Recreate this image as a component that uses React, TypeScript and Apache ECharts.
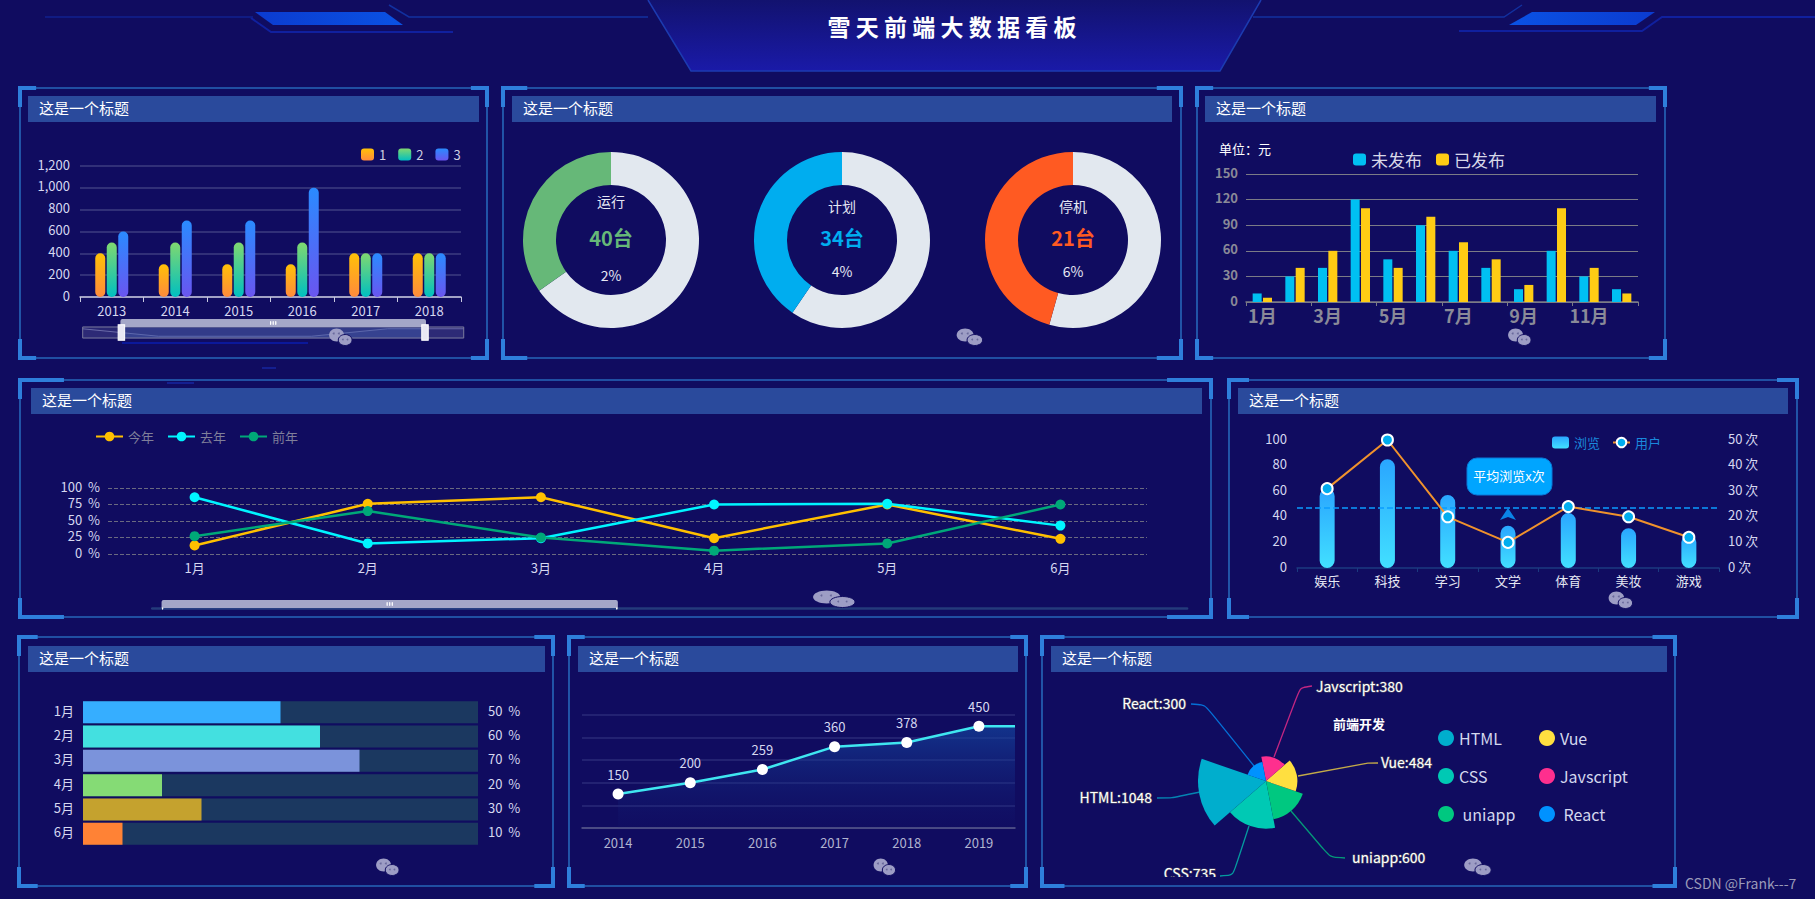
import React, { useEffect, useRef } from "react";
import * as echarts from "echarts";

const FONT = '"Noto Sans CJK SC", "Noto Sans", sans-serif';
const BG = "#100c60";

const pageTitle = "雪 天 前 端 大 数 据 看 板";
const panelTitle = "这是一个标题";

// panel 1
const barYears = ["2013", "2014", "2015", "2016", "2017", "2018"];
const barSeries1 = [400, 300, 300, 300, 400, 400];
const barSeries2 = [500, 500, 500, 500, 400, 400];
const barSeries3 = [600, 700, 700, 1000, 400, 400];

// panel 2
const ringNames = ["运行", "计划", "停机"];
const ringValues = [40, 34, 21];
const ringRests = [75, 50, 25];
const ringPercents = ["2%", "4%", "6%"];
const ringColors = ["#66b878", "#00adef", "#ff5a22"];
const ringCentersX = [611, 842, 1073];

// panel 3
const months12 = ["1月", "2月", "3月", "4月", "5月", "6月", "7月", "8月", "9月", "10月", "11月", "12月"];
const unpublished = [10, 30, 40, 120, 50, 90, 60, 40, 15, 60, 30, 15];
const published = [5, 40, 60, 110, 40, 100, 70, 50, 20, 110, 40, 10];

// panel 4
const months6 = ["1月", "2月", "3月", "4月", "5月", "6月"];
const thisYear = [13, 76, 86, 24, 75, 23];
const lastYear = [86, 16, 24, 75, 76, 43];
const yearBefore = [27, 65, 25, 5, 16, 75];

// panel 5
const topics = ["娱乐", "科技", "学习", "文学", "体育", "美妆", "游戏"];
const views = [62, 85, 57, 33, 43, 31, 26];
const users = [31, 50, 20, 10, 24, 20, 12];
const averageViews = 47;

// panel 6
const progressLabels = ["1月", "2月", "3月", "4月", "5月", "6月"];
const progressValues = [50, 60, 70, 20, 30, 10];
const progressColors = ["#36aeff", "#43e0e0", "#7b93db", "#85db75", "#c5a22e", "#ff8235"];

// panel 7
const trendYears = ["2014", "2015", "2016", "2017", "2018", "2019"];
const trendValues = [150, 200, 259, 360, 378, 450];

// panel 8
const roseNames = ["HTML", "CSS", "uniapp", "Vue", "Javscript", "React"];
const roseValues = [1048, 735, 600, 484, 380, 300];
const roseColors = ["#00aecd", "#00c9b4", "#00c880", "#ffdf40", "#fe2f8e", "#0092ff"];
const roseLabelAnchors: any[] = [
  { x: 1152, y: 797, align: "right", pts: [[1200, 792], [1172, 798], [1157, 798]] },
  { x: 1216, y: 873, align: "right", pts: [[1249, 826], [1233, 875], [1220, 876]] },
  { x: 1352, y: 857, align: "left", pts: [[1291, 811], [1330, 857], [1345, 858]] },
  { x: 1381, y: 762, align: "left", pts: [[1298, 776], [1368, 763], [1378, 763]] },
  { x: 1316, y: 686, align: "left", pts: [[1274, 757], [1300, 688], [1312, 686]] },
  { x: 1186, y: 703, align: "right", pts: [[1254, 766], [1205, 705], [1191, 704]] },
];

const panels = [
  { x0: 18, y0: 86, x1: 489, y1: 360, bar: [28, 96, 479, 122], tx: 39 },
  { x0: 501, y0: 86, x1: 1183, y1: 360, bar: [512, 96, 1172, 122], tx: 523 },
  { x0: 1195, y0: 86, x1: 1667, y1: 360, bar: [1205, 96, 1656, 122], tx: 1216 },
  { x0: 18, y0: 378, x1: 1213, y1: 619, bar: [31, 388, 1202, 414], tx: 42 },
  { x0: 1227, y0: 378, x1: 1799, y1: 619, bar: [1238, 388, 1788, 414], tx: 1249 },
  { x0: 17, y0: 635, x1: 555, y1: 888, bar: [28, 646, 545, 672], tx: 39 },
  { x0: 567, y0: 635, x1: 1028, y1: 888, bar: [578, 646, 1018, 672], tx: 589 },
  { x0: 1040, y0: 635, x1: 1677, y1: 888, bar: [1051, 646, 1667, 672], tx: 1062 },
];

const watermarks = [
  { x: 340, y: 337, s: 1.15 },
  { x: 969, y: 337, s: 1.3 },
  { x: 1519, y: 337, s: 1.15 },
  { x: 833, y: 599, s: 2.1 },
  { x: 1620, y: 600, s: 1.2 },
  { x: 387, y: 867, s: 1.15 },
  { x: 884, y: 867, s: 1.1 },
  { x: 1477, y: 867, s: 1.35 },
];

const vGrad = (top: string, bottom: string) => ({
  type: "linear", x: 0, y: 0, x2: 0, y2: 1,
  colorStops: [{ offset: 0, color: top }, { offset: 1, color: bottom }],
});
const hGrad = (a: string, b: string) => ({
  type: "linear", x: 0, y: 0, x2: 1, y2: 0,
  colorStops: [{ offset: 0, color: a }, { offset: 1, color: b }],
});

const txt = (text: string, x: number, y: number, size: number, fill: string, align = "left", weight = "normal", z = 10) => ({
  type: "text", x, y: y - 1.5, z,
  style: {
    text, fill, align, verticalAlign: "middle",
    textAlign: align, textVerticalAlign: "middle",
    font: `${weight} ${size}px ${FONT}`,
  },
});
const rect = (x: number, y: number, width: number, height: number, fill: any, z = 1) => ({
  type: "rect", z, shape: { x, y, width, height }, style: { fill },
});
const line = (points: number[][], stroke: string, lineWidth = 1.5, z = 1) => ({
  type: "polyline", z, shape: { points }, style: { stroke, lineWidth, fill: "none" },
});
const poly = (points: number[][], fill: any, z = 1) => ({
  type: "polygon", z, shape: { points }, style: { fill },
});

function headerElements(): any[] {
  return [
    poly([[648, 0], [691, 71], [1220, 71], [1261, 0]], vGrad("#12126f", "#1a1aa8")),
    line([[648, 0], [691, 71], [1220, 71], [1261, 0]], "#1c3bb0", 1.5),
    line([[45, 17], [253, 17]], "#10208f", 1.5),
    poly([[255, 12], [385, 12], [403, 25], [273, 25]], hGrad("#0b3bd0", "#0a52e4")),
    line([[251, 18], [271, 32], [453, 32]], "#10209e", 2),
    line([[389, 5], [409, 17], [648, 17]], "#12309f", 1.5),
    line([[1253, 17], [1504, 17], [1522, 5]], "#12309f", 1.5),
    poly([[1532, 12], [1655, 12], [1636, 25], [1509, 25]], hGrad("#0a52e4", "#0b3bd0")),
    line([[1459, 31], [1642, 31], [1662, 17], [1815, 17]], "#10209e", 2),
    rect(122, 342, 186, 2, "#0b189a"),
    rect(167, 382, 27, 2, "#141f90"),
    rect(262, 367, 14, 2, "#141f90"),
    txt(pageTitle, 952, 27, 23, "#ffffff", "center", "bold"),
    txt("CSDN @Frank---7", 1685, 884.5, 14, "#9a9ab8"),
  ];
}

function panelElements(): any[] {
  const out: any[] = [];
  const cornerColor = "#2e7fdb";
  for (const p of panels) {
    const w = p.x1 - p.x0;
    const h = p.y1 - p.y0;
    const cw = w / 26;
    const ch = 21;
    const t = 4;
    out.push({
      type: "rect", z: 1,
      shape: { x: p.x0 + 2, y: p.y0 + 2, width: w - 4, height: h - 4 },
      style: { fill: "none", stroke: "#2666b8", lineWidth: 1.6 },
    });
    out.push(rect(p.x0, p.y0, cw, t, cornerColor, 2));
    out.push(rect(p.x0, p.y0, t, ch, cornerColor, 2));
    out.push(rect(p.x1 - cw, p.y0, cw, t, cornerColor, 2));
    out.push(rect(p.x1 - t, p.y0, t, ch, cornerColor, 2));
    out.push(rect(p.x0, p.y1 - t, cw, t, cornerColor, 2));
    out.push(rect(p.x0, p.y1 - ch, t, ch, cornerColor, 2));
    out.push(rect(p.x1 - cw, p.y1 - t, cw, t, cornerColor, 2));
    out.push(rect(p.x1 - t, p.y1 - ch, t, ch, cornerColor, 2));
    const [a, b, c, d] = p.bar;
    out.push(rect(a, b, c - a, d - b, "#2a4a9c", 2));
    out.push(txt(panelTitle, p.tx, (b + d) / 2, 15, "#ffffff"));
  }
  return out;
}

function watermarkElements(): any[] {
  const out: any[] = [];
  const c = "#9d9dc5";
  for (const m of watermarks) {
    out.push({ type: "ellipse", z: 20, shape: { cx: m.x - 3 * m.s, cy: m.y - 2, rx: 6.5 * m.s, ry: 6.5 }, style: { fill: c } });
    out.push({ type: "ellipse", z: 21, shape: { cx: m.x + 4.5 * m.s, cy: m.y + 3, rx: 6 * m.s, ry: 5.5 }, style: { fill: c, stroke: BG, lineWidth: 1 } });
    for (const dx of [-5.5, -1]) out.push({ type: "circle", z: 22, shape: { cx: m.x + dx * m.s, cy: m.y - 3.5, r: 1 }, style: { fill: "#6a6a9c" } });
    for (const dx of [2.5, 6.5]) out.push({ type: "circle", z: 22, shape: { cx: m.x + dx * m.s, cy: m.y + 2.5, r: 0.9 }, style: { fill: "#6a6a9c" } });
  }
  return out;
}

function ringElements(): any[] {
  const out: any[] = [];
  ringNames.forEach((name, i) => {
    const cx = ringCentersX[i];
    const first = i === 0;
    out.push(txt(name, cx, first ? 202 : 207, 14, "#e6e8f4", "center"));
    out.push(txt(`${ringValues[i]}台`, cx, 239, 20, ringColors[i], "center", "bold"));
    out.push(txt(ringPercents[i], cx, first ? 276 : 272, 14, "#e6e8f4", "center"));
  });
  return out;
}

function bubbleElements(): any[] {
  return [
    {
      type: "rect", z: 15,
      shape: { x: 1467, y: 458, width: 85, height: 37, r: 10 },
      style: { fill: "#00a5ff", stroke: "#0a78d8", lineWidth: 1 },
    },
    txt("平均浏览x次", 1509, 477, 13, "#ffffff", "center", "normal", 16),
    poly([[1508, 508], [1516, 520], [1508, 517], [1500, 520]], "#0a84e8", 15),
    rect(1160, 877, 70, 6, BG, 30),
  ];
}

function buildOption(): any {
  const axisText = "#d6d8f0";
  const upLabel = { verticalAlign: "bottom", lineHeight: 4 };
  const grid = [
    { left: 80, top: 166, width: 381, height: 131 },
    { left: 1246, top: 174, width: 392, height: 128 },
    { left: 108, top: 488, width: 1039, height: 66 },
    { left: 1297, top: 440, width: 422, height: 128 },
    { left: 83, top: 700, width: 395, height: 146 },
    { left: 582, top: 715, width: 433, height: 113 },
  ];

  const xAxis: any[] = [
    { gridIndex: 0, type: "category", data: barYears,
      axisLine: { lineStyle: { color: "#c8c8e0", width: 1.5 } },
      axisTick: { show: true, lineStyle: { color: "#c8c8e0" }, length: 5 },
      axisLabel: { color: axisText, fontSize: 13, fontFamily: FONT, margin: 7 } },
    { gridIndex: 0, type: "category", data: barYears, show: false },
    { gridIndex: 1, type: "category", data: months12,
      axisLine: { lineStyle: { color: "#7b7b86", width: 1.5 } },
      axisTick: { show: true, lineStyle: { color: "#7b7b86" }, length: 4, interval: 1 },
      axisLabel: { color: "#8a8a98", fontSize: 18, fontWeight: "bold", fontFamily: FONT, interval: 1, margin: 4 } },
    { gridIndex: 2, type: "category", data: months6,
      axisLine: { show: false }, axisTick: { show: false },
      axisLabel: { color: axisText, fontSize: 13, fontFamily: FONT, margin: 7 } },
    { gridIndex: 2, type: "category", data: months6, show: false },
    { gridIndex: 3, type: "category", data: topics,
      axisLine: { lineStyle: { color: "#1b3a80", width: 1.5 } },
      axisTick: { show: true, lineStyle: { color: "#1b3a80" }, length: 4 },
      axisLabel: { color: "#e6e8f4", fontSize: 13, fontFamily: FONT, margin: 6 } },
    { gridIndex: 4, type: "value", min: 0, max: 100, show: false },
    { gridIndex: 5, type: "category", data: trendYears,
      axisLine: { lineStyle: { color: "#5a5a8a", width: 1.5 } }, axisTick: { show: false },
      axisLabel: { color: "#b0b4d0", fontSize: 13, fontFamily: FONT, margin: 8 } },
    { gridIndex: 5, type: "value", min: -0.5, max: 5.5, show: false, splitLine: { show: false } },
  ];

  const yAxis: any[] = [
    { gridIndex: 0, type: "value", min: 0, max: 1200, interval: 200,
      axisLine: { show: false }, axisTick: { show: false },
      splitLine: { lineStyle: { color: "#3d3c80", width: 1.5 } },
      axisLabel: { color: axisText, fontSize: 13, fontFamily: FONT, margin: 10, ...upLabel } },
    { gridIndex: 0, type: "value", show: false, splitLine: { show: false } },
    { gridIndex: 1, type: "value", min: 0, max: 150, interval: 30,
      axisLine: { show: false }, axisTick: { show: false },
      splitLine: { lineStyle: { color: "#7b7b86", width: 1.2 } },
      axisLabel: { color: "#8a8a98", fontSize: 13, fontWeight: "bold", fontFamily: FONT, margin: 8, ...upLabel } },
    { gridIndex: 2, type: "value", min: 0, max: 100, interval: 25,
      axisLine: { show: false }, axisTick: { show: false },
      splitLine: { lineStyle: { color: "#6a6a80", type: "dashed" } },
      axisLabel: { color: axisText, fontSize: 13, fontFamily: FONT, formatter: "{value}  %", margin: 8, ...upLabel } },
    { gridIndex: 2, type: "value", show: false, splitLine: { show: false } },
    { gridIndex: 3, type: "value", min: 0, max: 100, interval: 20,
      axisLine: { show: false }, axisTick: { show: false }, splitLine: { show: false },
      axisLabel: { color: axisText, fontSize: 13, fontFamily: FONT, margin: 10, ...upLabel } },
    { gridIndex: 3, type: "value", min: 0, max: 50, interval: 10, position: "right",
      axisLine: { show: false }, axisTick: { show: false }, splitLine: { show: false },
      axisLabel: { color: axisText, fontSize: 13, fontFamily: FONT, formatter: "{value} 次", margin: 9, ...upLabel } },
    { gridIndex: 4, type: "category", inverse: true, data: progressLabels,
      axisLine: { show: false }, axisTick: { show: false },
      axisLabel: { color: axisText, fontSize: 13, fontFamily: FONT, margin: 9, ...upLabel } },
    { gridIndex: 4, type: "category", inverse: true, position: "right",
      data: progressValues.map((v) => `${v}  %`),
      axisLine: { show: false }, axisTick: { show: false },
      axisLabel: { color: axisText, fontSize: 13, fontFamily: FONT, margin: 10, ...upLabel } },
    { gridIndex: 5, type: "value", min: 0, max: 500, interval: 100,
      axisLine: { show: false }, axisTick: { show: false }, axisLabel: { show: false },
      splitLine: { lineStyle: { color: "#2a2a78", width: 1.5 } } },
  ];

  const barStyle = (top: string, bottom: string) => ({
    color: vGrad(top, bottom), borderRadius: 5,
  });
  const series: any[] = [
    { name: "1", type: "bar", xAxisIndex: 0, yAxisIndex: 0, data: barSeries1, barWidth: 10, barGap: "15%", itemStyle: barStyle("#ffc107", "#ff8a3c") },
    { name: "2", type: "bar", xAxisIndex: 0, yAxisIndex: 0, data: barSeries2, barWidth: 10, barGap: "15%", itemStyle: barStyle("#80d870", "#00bfc0") },
    { name: "3", type: "bar", xAxisIndex: 0, yAxisIndex: 0, data: barSeries3, barWidth: 10, barGap: "15%", itemStyle: barStyle("#2a8bff", "#6a55f0") },
    { name: "p1-shadow", type: "line", xAxisIndex: 1, yAxisIndex: 1, data: barSeries1, symbol: "none", silent: true, lineStyle: { opacity: 0 } },

    { name: "未发布", type: "bar", xAxisIndex: 2, yAxisIndex: 2, data: unpublished, barWidth: 9, barGap: "15%", itemStyle: { color: "#00c0f2" } },
    { name: "已发布", type: "bar", xAxisIndex: 2, yAxisIndex: 2, data: published, barWidth: 9, barGap: "15%", itemStyle: { color: "#ffcc14" } },

    ...[["今年", thisYear, "#ffc000"], ["去年", lastYear, "#00f5ff"], ["前年", yearBefore, "#00a878"]].map(([name, data, color]: any) => ({
      name, type: "line", xAxisIndex: 3, yAxisIndex: 3, data, symbol: "circle", symbolSize: 10,
      itemStyle: { color }, lineStyle: { color, width: 2.5 },
    })),
    { name: "p4-shadow", type: "line", xAxisIndex: 4, yAxisIndex: 4, data: thisYear, symbol: "none", silent: true, lineStyle: { opacity: 0 } },

    { name: "浏览", type: "bar", xAxisIndex: 5, yAxisIndex: 5, data: views, barWidth: 15,
      itemStyle: { color: vGrad("#2aa6ff", "#42e0ff"), borderRadius: 7.5 },
      markLine: { silent: true, symbol: "none", label: { show: false },
        lineStyle: { color: "#0a9cff", type: "dashed", width: 1.5 },
        data: [{ yAxis: averageViews }] } },
    { name: "用户", type: "line", xAxisIndex: 5, yAxisIndex: 6, data: users, symbol: "circle", symbolSize: 11, z: 5,
      itemStyle: { color: "#00adef", borderColor: "#ffffff", borderWidth: 2 },
      lineStyle: { color: "#f0922c", width: 2 } },

    { name: "进度", type: "bar", xAxisIndex: 6, yAxisIndex: 7, data: progressValues, barWidth: 22,
      showBackground: true, backgroundStyle: { color: "#1b3860" },
      itemStyle: { color: (p: any) => progressColors[p.dataIndex] } },

    { name: "趋势", type: "line", xAxisIndex: 8, yAxisIndex: 9, symbol: "circle", symbolSize: 11,
      data: [
        ...trendValues.map((v, i) => [i, v]),
        { value: [trendValues.length - 0.5, trendValues[trendValues.length - 1]], symbol: "none", label: { show: false } },
      ],
      itemStyle: { color: "#ffffff" },
      lineStyle: { color: "#3fe6f0", width: 2.5 },
      areaStyle: { color: vGrad("rgba(20,74,165,0.9)", "rgba(20,30,120,0.1)") },
      label: { show: true, position: "top", distance: 8, color: axisText, fontSize: 13, fontFamily: FONT,
        formatter: (p: any) => p.value[1] } },

    ...ringNames.map((name, i) => ({
      name, type: "pie", center: [ringCentersX[i], 240], radius: [55, 88], startAngle: 90, clockwise: true,
      label: { show: false }, labelLine: { show: false }, silent: true,
      data: [
        { name: `${name}其余`, value: ringRests[i], itemStyle: { color: "#e2e8ef" } },
        { name: `${name}台数`, value: ringValues[i], itemStyle: { color: ringColors[i] } },
      ],
    })),

    { name: "前端开发", type: "pie", center: [1266, 781], radius: [0, 68], roseType: "area",
      startAngle: 161, clockwise: false, avoidLabelOverlap: false, silent: true,
      data: roseNames.map((name, i) => ({ name, value: roseValues[i], itemStyle: { color: roseColors[i] } })),
      label: { show: true, formatter: "{b}:{c}", color: "#ffffff", fontSize: 14, fontFamily: FONT,
        textBorderColor: "#555566", textBorderWidth: 1.2 },
      labelLine: { show: true, smooth: 0.2, lineStyle: { width: 1.3, opacity: 0.75 } },
      labelLayout: (p: any) => {
        const a = roseLabelAnchors[p.dataIndex];
        return { x: a.x, y: a.y, align: a.align, verticalAlign: "middle", labelLinePoints: a.pts, hideOverlap: false };
      },
    },
  ];

  const legendText = (color: string, size: number) => ({ color, fontSize: size, fontFamily: FONT });
  const legend: any[] = [
    { left: 356, top: 143, data: ["1", "2", "3"], icon: "roundRect", itemWidth: 13, itemHeight: 12, itemGap: 12,
      textStyle: legendText("#cfd0e0", 13) },
    { left: 1348, top: 146, data: ["未发布", "已发布"], icon: "roundRect", itemWidth: 13, itemHeight: 12, itemGap: 14,
      textStyle: legendText("#d8d8e8", 17) },
    { left: 90, top: 425, data: ["今年", "去年", "前年"], itemWidth: 27, itemHeight: 12, itemGap: 13,
      textStyle: legendText("#7f7f9a", 13) },
    { left: 1547, top: 431, data: [{ name: "浏览", icon: "roundRect" }, "用户"], itemWidth: 17, itemHeight: 12, itemGap: 12,
      textStyle: legendText("#1a88dc", 13) },
    { left: 1433, top: 725, orient: "vertical", data: ["HTML", "CSS", "uniapp"], icon: "circle", itemWidth: 16, itemHeight: 16, itemGap: 22,
      formatter: (n: string) => (n === "uniapp" ? ` ${n}` : n), textStyle: legendText("#d4d8ee", 16) },
    { left: 1534, top: 725, orient: "vertical", data: ["Vue", "Javscript", "React"], icon: "circle", itemWidth: 16, itemHeight: 16, itemGap: 22,
      formatter: (n: string) => (n === "React" ? ` ${n}` : n), textStyle: legendText("#d4d8ee", 16) },
  ];

  const handleIcon = "path://M0,0H5V12H0Z";
  const dataZoom: any[] = [
    { type: "slider", xAxisIndex: 1, left: 79, top: 319, width: 382, height: 12, start: 10, end: 90,
      showDetail: false, brushSelect: true, moveHandleSize: 8,
      moveHandleStyle: { color: "#a4a7c8", opacity: 1 },
      handleIcon, handleSize: "130%", handleStyle: { color: "#e8e8f4", borderColor: "#ffffff" },
      fillerColor: "rgba(70,100,180,0.35)", backgroundColor: "rgba(90,90,150,0.35)", borderColor: "#77779a",
      dataBackground: { lineStyle: { color: "#6a6aa8", width: 1 }, areaStyle: { color: "rgba(120,120,180,0.3)" } },
      selectedDataBackground: { lineStyle: { color: "#6a6aa8", width: 1 }, areaStyle: { color: "rgba(90,110,190,0.5)" } },
    },
    { type: "slider", xAxisIndex: 4, left: 148, top: 600, width: 1037, height: 2, start: 1, end: 45,
      showDetail: false, brushSelect: true, showDataShadow: false, moveHandleSize: 8,
      moveHandleStyle: { color: "#a4a7c8", opacity: 1 },
      handleSize: "100%", handleStyle: { color: "#e8e8f4", borderColor: "#ffffff" },
      fillerColor: "rgba(70,100,180,0.4)", backgroundColor: "rgba(40,70,130,0.6)", borderColor: "#27407e",
    },
  ];

  const graphic = {
    elements: [
      ...headerElements(),
      ...panelElements(),
      ...ringElements(),
      ...bubbleElements(),
      ...watermarkElements(),
      txt("单位：元", 1219, 150, 13, "#ffffff"),
      txt("前端开发", 1359, 725, 13, "#ffffff", "center", "bold"),
    ],
  };

  return { animation: false, backgroundColor: BG, grid, xAxis, yAxis, series, legend, dataZoom, graphic, tooltip: { show: false } };
}

export default function App() {
  const ref = useRef<HTMLDivElement>(null);
  useEffect(() => {
    document.body.style.margin = "0";
    document.body.style.background = BG;
    const chart = echarts.init(ref.current!, undefined, { renderer: "svg" });
    chart.setOption(buildOption());
    return () => chart.dispose();
  }, []);
  return <div ref={ref} style={{ width: 1815, height: 899 }} />;
}
